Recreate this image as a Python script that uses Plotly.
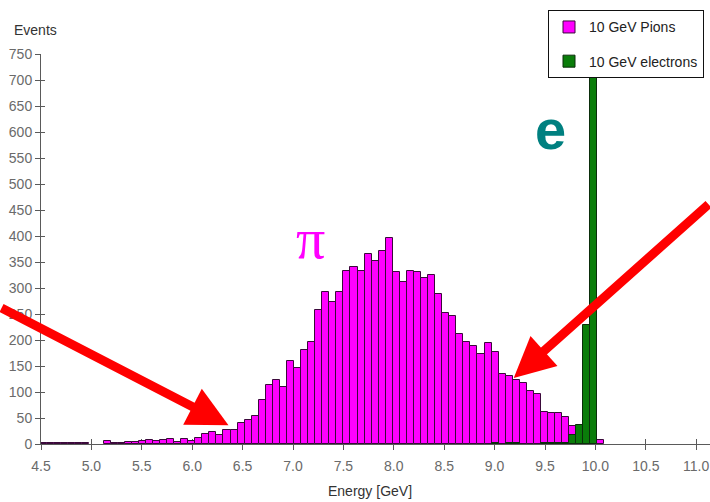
import numpy as np
import plotly.graph_objects as go

# ---------------- data ----------------
bin_start = 4.0      # GeV, lower edge of first bin
bin_width = 0.07     # GeV
n_bins = 100

pion_counts = [
    0, 0, 0, 0, 0, 0, 0, 1, 1, 1,            # 4.00 - 4.70
    1, 1, 1, 1, 0, 0, 5, 1, 2, 3,            # 4.70 - 5.40
    4, 5, 8, 6, 8, 9, 4, 10, 6, 11,          # 5.40 - 6.10
    20, 23, 18, 26, 26, 41, 47, 54, 85, 114, # 6.10 - 6.80
    123, 109, 160, 147, 180, 196, 258, 292, 273, 292,  # 6.80 - 7.50
    333, 341, 333, 365, 352, 371, 397, 331, 312, 333,  # 7.50 - 8.20
    331, 320, 325, 289, 251, 246, 212, 196, 189, 173,  # 8.20 - 8.90
    194, 176, 134, 130, 124, 117, 102, 96, 61, 60,     # 8.90 - 9.60
    60, 52, 34, 20, 12, 6, 7, 0, 0, 0,                 # 9.60 - 10.30
    0, 0, 0, 0, 0, 0, 0, 0, 0, 0,                      # 10.30 - 11.00
]

electron_counts = [
    0, 0, 0, 0, 0, 0, 0, 0, 0, 0,
    0, 0, 0, 0, 0, 0, 0, 0, 0, 0,
    0, 0, 0, 0, 0, 0, 0, 0, 0, 0,
    0, 0, 0, 0, 0, 0, 0, 0, 0, 0,
    0, 0, 0, 0, 0, 0, 0, 0, 0, 0,
    0, 0, 0, 0, 0, 0, 0, 0, 0, 0,
    0, 0, 0, 0, 0, 0, 0, 0, 0, 0,
    0, 1, 0, 1, 1, 0, 0, 0, 1, 1,
    1, 1, 18, 36, 229, 760, 0, 0, 0, 0,
    0, 0, 0, 0, 0, 0, 0, 0, 0, 0,
]

x_ticks = [4.5, 5.0, 5.5, 6.0, 6.5, 7.0, 7.5, 8.0, 8.5, 9.0, 9.5, 10.0, 10.5, 11.0]
y_ticks = list(range(0, 751, 50))

series_names = ["10 GeV Pions", "10 GeV electrons"]

# ---------------- figure ----------------
centers = bin_start + bin_width * (np.arange(n_bins) + 0.5)

def nz(vals):
    return [v if v > 0 else None for v in vals]

W, H = 710, 502
ML, MR = 41, 0
plot_top, plot_bot = 53.7, 444.3
MT = plot_top
MB = H - plot_bot
plot_w = W - ML - MR
plot_h = plot_bot - plot_top
px_per_gev = 100.8
x_max = 4.5 + plot_w / px_per_gev

font_main = "Liberation Sans, Arial, sans-serif"

fig = go.Figure()
fig.add_trace(go.Bar(
    x=centers, y=nz(pion_counts), width=bin_width, name=series_names[0],
    marker=dict(color="#FF00FF", line=dict(color="#3a0a3a", width=1)),
    legendgroup="p",
))
fig.add_trace(go.Bar(
    x=centers, y=nz(electron_counts), width=bin_width, name=series_names[1],
    marker=dict(color="#0a7d0a", line=dict(color="#0b2e0b", width=1)),
    legendgroup="e",
))
# helper traces so the "inside" half of the crossing ticks is drawn
fig.add_trace(go.Scatter(x=[None], y=[None], xaxis="x", yaxis="y2",
                         showlegend=False, hoverinfo="skip"))
fig.add_trace(go.Scatter(x=[None], y=[None], xaxis="x2", yaxis="y",
                         showlegend=False, hoverinfo="skip"))

axis_col = "#5a5a5a"
tick_font = dict(family=font_main, size=14, color="#6a6a6a")

def sx(px):
    return (px - ML) / plot_w

def sy(py):
    return (plot_bot - py) / plot_h

fig.update_layout(
    width=W, height=H,
    margin=dict(l=ML, r=MR, t=MT, b=MB, pad=0),
    paper_bgcolor="white", plot_bgcolor="white",
    barmode="overlay", bargap=0,
    xaxis=dict(range=[4.5, x_max], tickvals=x_ticks,
               ticktext=[f"{v:.1f}" for v in x_ticks],
               ticks="outside", ticklen=5, tickcolor=axis_col, tickwidth=1,
               showline=True, linecolor=axis_col, linewidth=1,
               showgrid=False, zeroline=False, tickfont=tick_font,
               ticklabelstandoff=4),
    xaxis2=dict(range=[4.5, x_max], overlaying="x", anchor="y",
                tickvals=x_ticks, ticks="inside", ticklen=5, tickcolor=axis_col,
                showticklabels=False, showline=False, showgrid=False,
                zeroline=False, layer="below traces"),
    yaxis=dict(range=[0, 750], tickvals=y_ticks,
               ticks="outside", ticklen=5, tickcolor=axis_col, tickwidth=1,
               showline=True, linecolor=axis_col, linewidth=1,
               showgrid=False, zeroline=False, tickfont=tick_font),
    yaxis2=dict(range=[0, 750], overlaying="y", anchor="x", side="left",
                tickvals=y_ticks, ticks="inside", ticklen=4, tickcolor=axis_col,
                showticklabels=False, showline=False, showgrid=False,
                zeroline=False),
    showlegend=True,
    legend=dict(x=sx(548), y=sy(10),
                xanchor="left", yanchor="top",
                bgcolor="white", bordercolor="#111", borderwidth=1,
                font=dict(family=font_main, size=14, color="#222"),
                tracegroupgap=13, traceorder="grouped"),
)

fig.add_annotation(text="Events", x=sx(35), y=sy(30), xref="paper", yref="paper",
                   xanchor="center", yanchor="middle", showarrow=False,
                   font=dict(family=font_main, size=14, color="#333"))
fig.add_annotation(text="Energy [GeV]", x=sx(370), y=sy(491), xref="paper", yref="paper",
                   xanchor="center", yanchor="middle", showarrow=False,
                   font=dict(family=font_main, size=14, color="#333"))

# particle labels
fig.add_annotation(text="π", x=sx(310), y=sy(238), xref="paper", yref="paper",
                   showarrow=False, xanchor="center", yanchor="middle",
                   font=dict(family="Liberation Serif, DejaVu Serif, serif",
                             size=58, color="#FF00FF"))
fig.add_annotation(text="<b>e</b>", x=sx(550), y=sy(129), xref="paper", yref="paper",
                   showarrow=False, xanchor="center", yanchor="middle",
                   font=dict(family="Liberation Sans, Arial, sans-serif",
                             size=56, color="#008080"))

# red arrows
fig.add_annotation(x=6.36, y=36, xref="x", yref="y", text="",
                   showarrow=True, arrowhead=2, arrowsize=0.9, arrowwidth=9,
                   arrowcolor="#FF0000", axref="pixel", ayref="pixel",
                   ax=-235, ay=-118, standoff=0)
fig.add_annotation(x=9.19, y=127, xref="x", yref="y", text="",
                   showarrow=True, arrowhead=2, arrowsize=0.9, arrowwidth=9,
                   arrowcolor="#FF0000", axref="pixel", ayref="pixel",
                   ax=205, ay=-175, standoff=0)

# remove the browser's default 8px body margin so the 710x502 figure fills the window
fig.write_html("out.html",
               config={"displayModeBar": False},
               post_script="document.body.style.margin='0';"
                           "document.body.style.overflow='hidden';")
